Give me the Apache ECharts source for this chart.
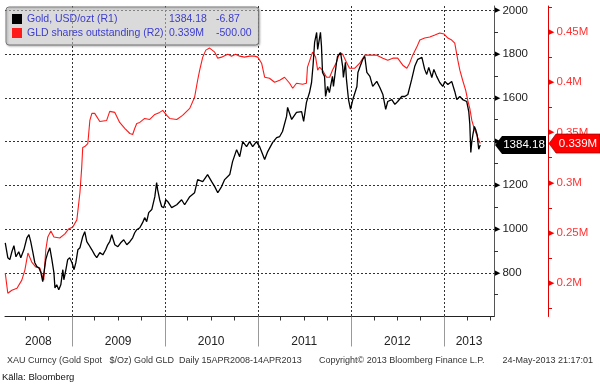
<!DOCTYPE html>
<html><head><meta charset="utf-8">
<script src="https://cdn.jsdelivr.net/npm/echarts@6/dist/echarts.min.js"></script>
<style>html,body{margin:0;padding:0;background:#fff}#c{width:600px;height:384px}</style>
</head><body><div id="c"></div>
<script>
const goldDates = ['2008-04-15','2008-04-25','2008-05-03','2008-05-11','2008-05-19','2008-05-27','2008-06-07','2008-06-15','2008-06-27','2008-07-09','2008-07-17','2008-07-24','2008-08-01','2008-08-09','2008-08-17','2008-08-25','2008-09-02','2008-09-09','2008-09-13','2008-09-21','2008-09-29','2008-10-07','2008-10-15','2008-10-23','2008-10-27','2008-11-03','2008-11-11','2008-11-19','2008-11-27','2008-12-01','2008-12-09','2008-12-16','2008-12-24',
'2009-01-02','2009-01-10','2009-01-17','2009-01-25','2009-02-02','2009-02-13','2009-02-21','2009-03-01','2009-03-09','2009-03-21','2009-04-01','2009-04-09','2009-04-21','2009-05-03','2009-05-14','2009-05-22','2009-05-30','2009-06-07','2009-06-19','2009-07-01','2009-07-12','2009-07-24','2009-08-05','2009-08-17','2009-08-28','2009-09-05','2009-09-13','2009-09-25','2009-10-06','2009-10-14','2009-10-22','2009-10-30','2009-11-11','2009-11-23','2009-11-30','2009-12-04','2009-12-12','2009-12-20','2009-12-28',
'2010-01-05','2010-01-13','2010-01-28','2010-02-17','2010-03-08','2010-03-20','2010-04-09','2010-04-28','2010-05-10','2010-05-30','2010-06-18','2010-07-04','2010-07-16','2010-07-28','2010-08-12','2010-08-24','2010-09-13','2010-09-24','2010-10-10','2010-10-22','2010-11-03','2010-11-18','2010-11-30','2010-12-12','2010-12-27',
'2011-01-08','2011-01-28','2011-02-09','2011-02-28','2011-03-16','2011-03-28','2011-04-08','2011-04-24','2011-04-28','2011-05-14','2011-06-02','2011-06-22','2011-06-30','2011-07-11','2011-07-23','2011-07-31','2011-08-06','2011-08-12','2011-08-20','2011-08-24','2011-09-04','2011-09-08','2011-09-12','2011-09-20','2011-09-24','2011-10-02','2011-10-09','2011-10-21','2011-10-25','2011-11-06','2011-11-10','2011-11-22','2011-11-30','2011-12-03','2011-12-11','2011-12-15','2011-12-23','2011-12-31',
'2012-01-09','2012-01-25','2012-01-29','2012-02-05','2012-02-17','2012-02-25','2012-03-04','2012-03-16','2012-03-27','2012-04-12','2012-04-24','2012-05-06','2012-05-17','2012-05-25','2012-06-10','2012-06-22','2012-07-03','2012-07-19','2012-07-31','2012-08-12','2012-08-27','2012-09-08','2012-09-20','2012-10-06','2012-10-17','2012-10-25','2012-11-02','2012-11-14','2012-11-22','2012-12-03','2012-12-15','2012-12-27',
'2013-01-04','2013-01-16','2013-01-31','2013-02-12','2013-02-20','2013-03-04','2013-03-15','2013-03-31','2013-04-08','2013-04-12','2013-04-16','2013-04-20','2013-04-24','2013-04-30','2013-05-05','2013-05-11','2013-05-17','2013-05-23'];
const goldValues = [937,869,860,896,924,873,896,869,905,960,974,942,896,846,828,823,800,759,754,860,892,914,860,800,731,745,722,745,814,768,814,860,869,
846,814,846,905,914,965,988,942,928,905,882,869,892,882,905,928,942,974,928,919,937,951,928,942,960,983,997,1006,1029,1052,1034,1075,1089,1148,1212,1180,1134,1102,1098,
1134,1125,1098,1111,1134,1111,1148,1166,1226,1217,1249,1217,1194,1166,1194,1226,1249,1308,1363,1331,1400,1377,1400,1377,1400,
1377,1318,1354,1395,1418,1423,1446,1515,1556,1501,1533,1537,1492,1579,1624,1670,1750,1853,1899,1821,1899,1835,1716,1698,1606,1652,1624,1698,1652,1762,1789,1807,1744,1693,1762,1684,1592,1547,
1592,1652,1716,1739,1776,1789,1716,1698,1652,1675,1647,1615,1547,1583,1592,1570,1583,1606,1606,1615,1684,1744,1776,1785,1730,1707,1739,1693,1730,1698,1670,1652,
1675,1661,1675,1629,1592,1606,1592,1583,1537,1480,1350,1400,1430,1469,1455,1430,1365,1384.18];

const gldDates = ['2008-04-15','2008-04-25','2008-05-11','2008-05-31','2008-06-19','2008-07-01','2008-07-13','2008-07-20','2008-07-28','2008-08-13','2008-08-29','2008-09-09','2008-09-13','2008-09-21','2008-09-29','2008-10-11','2008-10-23','2008-11-15','2008-12-05','2008-12-20',
'2009-01-05','2009-01-21','2009-02-02','2009-02-09','2009-02-13','2009-02-21','2009-03-05','2009-03-13','2009-03-21','2009-04-01','2009-04-21','2009-05-18','2009-05-30','2009-06-19','2009-07-08','2009-07-28','2009-08-17','2009-08-28','2009-09-05','2009-09-13','2009-09-25','2009-10-14','2009-11-03','2009-11-23','2009-12-12','2009-12-24',
'2010-01-09','2010-01-20','2010-02-17','2010-03-12','2010-04-09','2010-04-28','2010-05-10','2010-05-18','2010-05-30','2010-06-11','2010-06-26','2010-07-16','2010-07-28','2010-08-12','2010-09-05','2010-09-20','2010-10-06','2010-10-22','2010-11-10','2010-11-30','2010-12-19',
'2011-01-01','2011-01-16','2011-01-28','2011-02-16','2011-03-08','2011-03-28','2011-04-16','2011-05-06','2011-05-18','2011-06-02','2011-06-26','2011-07-11','2011-07-15','2011-07-27','2011-08-04','2011-08-16','2011-08-24','2011-08-31','2011-09-12','2011-09-28','2011-10-10','2011-10-21','2011-11-06','2011-11-18','2011-11-30','2011-12-15','2011-12-27',
'2012-01-17','2012-02-05','2012-02-25','2012-03-16','2012-04-12','2012-05-06','2012-05-25','2012-06-14','2012-07-03','2012-07-23','2012-08-08','2012-08-19','2012-08-31','2012-09-16','2012-09-28','2012-10-17','2012-11-06','2012-11-26','2012-12-15',
'2013-01-01','2013-01-16','2013-01-31','2013-02-12','2013-02-24','2013-03-04','2013-03-15','2013-03-27','2013-04-04','2013-04-12','2013-04-20','2013-04-28','2013-05-05','2013-05-13','2013-05-23'];
const gldValues = [0.210,0.190,0.193,0.195,0.203,0.213,0.230,0.230,0.221,0.216,0.215,0.206,0.203,0.233,0.246,0.252,0.246,0.245,0.249,0.254,
0.256,0.263,0.290,0.315,0.335,0.336,0.339,0.362,0.369,0.369,0.361,0.362,0.371,0.370,0.360,0.354,0.349,0.348,0.354,0.359,0.360,0.364,0.363,0.368,0.370,0.372,
0.367,0.364,0.363,0.367,0.374,0.385,0.402,0.412,0.425,0.432,0.434,0.430,0.424,0.425,0.428,0.426,0.428,0.426,0.425,0.426,0.426,
0.425,0.419,0.405,0.404,0.400,0.402,0.405,0.399,0.394,0.399,0.398,0.399,0.415,0.424,0.430,0.425,0.412,0.415,0.412,0.405,0.405,0.412,0.420,0.429,0.428,0.420,0.414,
0.414,0.419,0.427,0.427,0.427,0.424,0.422,0.424,0.424,0.417,0.414,0.419,0.427,0.435,0.442,0.444,0.445,0.447,0.449,
0.448,0.444,0.442,0.439,0.422,0.412,0.402,0.392,0.382,0.374,0.362,0.355,0.354,0.345,0.339];

const seriesNames = ['Gold, USD/ozt (R1)', 'GLD shares outstanding (R2)'];
const legendLast = ['1384.18', '0.339M'];
const legendChange = ['-6.87', '-500.00'];

const goldTicks = [800,1000,1200,1400,1600,1800,2000];
const goldMinorTicks = [700,800,900,1000,1100,1200,1300,1400,1500,1600,1700,1800,1900,2000];
const gldTicks = [0.2,0.25,0.3,0.35,0.4,0.45];
const gldMinorTicks = [0.175,0.2,0.225,0.25,0.275,0.3,0.325,0.35,0.375,0.4,0.425,0.45,0.475];
const xMinDate = '2008-04-14', xMaxDate = '2013-07-16';
const yearStarts = ['2009-01-01','2010-01-01','2011-01-01','2012-01-01','2013-01-01'];
const quarterTicks = ['2008-07-01','2008-10-01','2009-04-01','2009-07-01','2009-10-01','2010-04-01','2010-07-01','2010-10-01','2011-04-01','2011-07-01','2011-10-01','2012-04-01','2012-07-01','2012-10-01','2013-04-01','2013-07-01'];
const yearLabelAt = ['2008-08-23','2009-07-02','2010-07-02','2011-07-02','2012-07-02','2013-04-09'];

const FONT = 'Liberation Sans';
const goldMin = 600, goldMax = 2019.8, gldMin = 0.16681, gldMax = 0.47592;

const ts = s => Date.parse(s + 'T00:00:00Z');
const xMin = ts(xMinDate), xMax = ts(xMaxDate);

const chart = echarts.init(document.getElementById('c'), null, {renderer: 'canvas'});
const goldData = goldDates.map((d, i) => [ts(d), goldValues[i]]);
const gldData = gldDates.map((d, i) => [ts(d), gldValues[i]]);
const lastGold = goldValues[goldValues.length - 1];
const lastGld = gldValues[gldValues.length - 1];
const dotted = {type: [2, 2], color: '#333', width: 1};

chart.setOption({
  animation: false,
  textStyle: {fontFamily: FONT},
  grid: {left: 5, right: 106, top: 6, bottom: 67.5, containLabel: false},
  legend: {
    data: seriesNames, orient: 'vertical', left: 6, top: 7,
    itemWidth: 10, itemHeight: 10, itemGap: 2, icon: 'rect',
    padding: [6, 7, 6, 6],
    backgroundColor: 'rgba(225,225,225,0.5)', borderColor: '#777', borderWidth: 1, borderRadius: 3,
    shadowColor: 'rgba(0,0,0,0.35)', shadowBlur: 2, shadowOffsetX: 1, shadowOffsetY: 1,
    selectedMode: false,
    textStyle: {fontFamily: FONT, fontSize: 10.5, color: '#3c3cd0', lineHeight: 12,
      rich: {
        n: {width: 142, fontSize: 10.5, color: '#3c3cd0', fontFamily: FONT},
        v: {width: 47, fontSize: 10.5, color: '#3c3cd0', fontFamily: FONT},
        c: {fontSize: 10.5, color: '#3c3cd0', fontFamily: FONT}
      }},
    formatter: name => {
      const i = seriesNames.indexOf(name);
      return '{n|' + name + '}{v|' + legendLast[i] + '}{c|' + legendChange[i] + '}';
    }
  },
  xAxis: [
    {type: 'value', min: xMin, max: xMax, position: 'bottom',
      axisLine: {show: true, onZero: false, lineStyle: {color: '#222', width: 1}},
      axisTick: {show: true, customValues: quarterTicks.map(ts), length: 4, lineStyle: {color: '#333'}},
      axisLabel: {show: false}, splitLine: {show: false}},
    {type: 'value', min: xMin, max: xMax, position: 'bottom',
      axisLine: {show: false, onZero: false},
      axisTick: {show: true, customValues: yearStarts.map(ts), length: 30, lineStyle: {color: '#999'}},
      axisLabel: {show: true, customValues: yearLabelAt.map(ts), margin: 19, fontSize: 12, color: '#222', fontFamily: FONT,
        formatter: v => String(new Date(v).getUTCFullYear())},
      splitLine: {show: true, lineStyle: dotted}}
  ],
  yAxis: [
    {type: 'value', position: 'right', min: goldMin, max: goldMax,
      axisLine: {show: true, onZero: false, lineStyle: {color: '#555'}},
      axisTick: {show: true, customValues: goldMinorTicks, length: 4, lineStyle: {color: '#333'}},
      axisLabel: {show: true, customValues: goldTicks, margin: 1,
        formatter: v => '{a|\u25B6}{b|' + v + '}',
        rich: {a: {fontSize: 7, color: '#000', fontFamily: 'DejaVu Sans', padding: [0, 2, 0, 0]},
               b: {fontSize: 11.5, color: '#222', fontFamily: FONT}}},
      splitLine: {show: false}},
    {type: 'value', position: 'right', offset: 54, min: gldMin, max: gldMax,
      axisLine: {show: true, onZero: false, lineStyle: {color: '#e00000'}},
      axisTick: {show: true, customValues: gldMinorTicks, length: 4, lineStyle: {color: '#e00000'}},
      axisLabel: {show: true, customValues: gldTicks, margin: 1,
        formatter: v => '{a|\u25B6}{b|' + (+(+v).toFixed(2)) + 'M}',
        rich: {a: {fontSize: 7, color: '#ff0000', fontFamily: 'DejaVu Sans', padding: [0, 2, 0, 0]},
               b: {fontSize: 11.5, color: '#ff3333', fontFamily: FONT}}},
      splitLine: {show: false}},
    {type: 'value', position: 'left', min: goldMin, max: goldMax,
      axisLine: {show: false}, axisTick: {show: false, customValues: goldTicks},
      axisLabel: {show: false}, splitLine: {show: true, lineStyle: dotted}}
  ],
  series: [
    {name: seriesNames[1], type: 'line', xAxisIndex: 0, yAxisIndex: 1, data: gldData,
      showSymbol: false, symbol: 'none', color: '#ff1a1a',
      itemStyle: {color: '#ff1a1a'}, lineStyle: {color: '#ff1a1a', width: 1.1}, z: 3,
      markPoint: {silent: true, symbol: 'path://M0,9L7,0L51,0L51,18L7,18Z', symbolSize: [51, 19],
        symbolOffset: [80.5, 0], symbolKeepAspect: false,
        itemStyle: {color: '#ff0000', borderColor: '#8a0000', borderWidth: 0.6},
        label: {show: true, position: 'inside', offset: [3.5, 0], color: '#fff', fontSize: 11.5, fontFamily: FONT,
          formatter: () => lastGld.toFixed(3) + 'M'},
        data: [{coord: [xMax, lastGld], value: lastGld}]}},
    {name: seriesNames[0], type: 'line', xAxisIndex: 0, yAxisIndex: 0, data: goldData,
      showSymbol: false, symbol: 'none', color: '#000',
      itemStyle: {color: '#000'}, lineStyle: {color: '#000', width: 1.3}, z: 4,
      markPoint: {silent: true, symbol: 'path://M0,9L7,0L51,0L51,18L7,18Z', symbolSize: [51, 18],
        symbolOffset: [26.5, 0], symbolKeepAspect: false,
        itemStyle: {color: '#000'},
        label: {show: true, position: 'inside', offset: [3.5, 0], color: '#fff', fontSize: 11.5, fontFamily: FONT,
          formatter: () => lastGold.toFixed(2)},
        data: [{coord: [xMax, lastGold], value: lastGold}]}}
  ],
  graphic: [
    {type: 'text', left: 7, top: 356, style: {text: 'XAU Curncy (Gold Spot   $/Oz) Gold GLD  Daily 15APR2008-14APR2013', font: '9px "Liberation Sans"', fill: '#333'}},
    {type: 'text', left: 319, top: 356, style: {text: 'Copyright\u00A9 2013 Bloomberg Finance L.P.', font: '9px "Liberation Sans"', fill: '#333'}},
    {type: 'text', right: 7, top: 356, style: {text: '24-May-2013 21:17:01', font: '9px "Liberation Sans"', fill: '#333'}},
    {type: 'text', left: 2, top: 372, style: {text: 'Källa: Bloomberg', font: '9.5px "Liberation Sans"', fill: '#111'}}
  ]
});
</script></body></html>
